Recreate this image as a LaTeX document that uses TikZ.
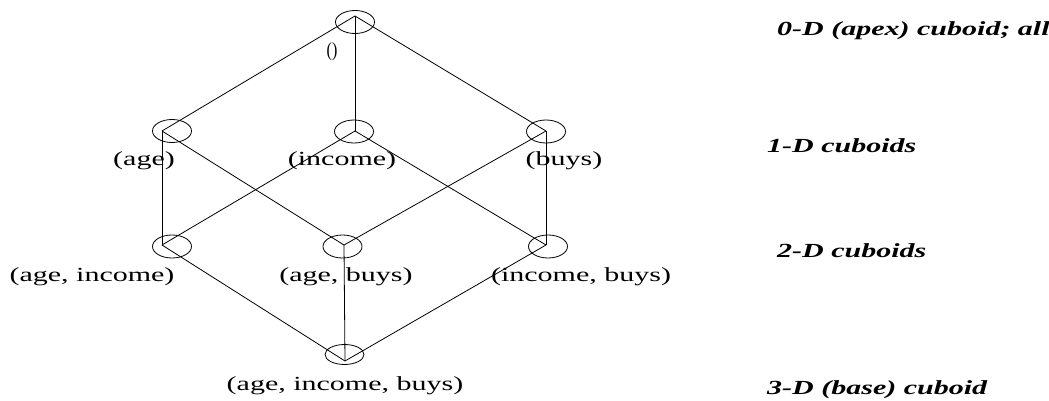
\documentclass[tikz,border=0pt]{standalone}
\usepackage{fontspec}
\setmainfont{Liberation Serif}
\usepackage{graphicx}
\usetikzlibrary{shapes.geometric}
\newcommand{\widetxt}[1]{\scalebox{1.5}[1]{#1}}
\begin{document}
\begin{tikzpicture}[x=1pt,y=-1pt,
  cub/.style={draw, ellipse, minimum width=39pt, minimum height=23pt, inner sep=0pt, line width=0.8pt},
  edge/.style={line width=0.8pt},
  lbl/.style={font=\fontsize{20}{24}\selectfont, inner sep=0pt, anchor=base},
  lvl/.style={font=\fontsize{20}{24}\selectfont\bfseries\itshape, inner sep=0pt, anchor=base west}]
\useasboundingbox (0,0) rectangle (1049,401);
% ellipses
\node[cub] (eApex) at (355,22) {};
\node[cub] (eAge) at (172,131) {};
\node[cub] (eInc) at (354,131.5) {};
\node[cub] (eBuy) at (546,131.5) {};
\node[cub] (eAI) at (172,246.5) {};
\node[cub] (eAB) at (342.5,246.5) {};
\node[cub] (eIB) at (548,246.5) {};
\node[cub, minimum height=20pt] (eBase) at (344.5,354.5) {};
% vertices
\coordinate (apex) at (355,16);
\coordinate (age) at (162,131);
\coordinate (inc) at (355,131);
\coordinate (buy) at (546,131);
\coordinate (ai) at (162,245);
\coordinate (ab) at (344,245);
\coordinate (ib) at (546,245);
\coordinate (base) at (345,361);
% edges
\draw[edge] (apex) -- (age);
\draw[edge] (apex) -- (inc);
\draw[edge] (apex) -- (buy);
\draw[edge] (age) -- (ai);
\draw[edge] (age) -- (ab);
\draw[edge] (inc) -- (ai);
\draw[edge] (inc) -- (ib);
\draw[edge] (buy) -- (ab);
\draw[edge] (buy) -- (ib);
\draw[edge] (ai) -- (base);
\draw[edge] (ab) -- (base);
\draw[edge] (ib) -- (base);
% labels
\node[lbl] (tApex) at (332,57) {\scalebox{0.8}[1]{()}};
\node[lbl] (tAge) at (144,165) {\widetxt{(age)}};
\node[lbl] (tInc) at (342,165) {\widetxt{(income)}};
\node[lbl] (tBuy) at (564,165) {\widetxt{(buys)}};
\node[lbl] (tAI) at (92,281) {\widetxt{(age, income)}};
\node[lbl] (tAB) at (346,281) {\widetxt{(age, buys)}};
\node[lbl] (tIB) at (581,281) {\widetxt{(income, buys)}};
\node[lbl] (tBase) at (345,390) {\widetxt{(age, income, buys)}};
% level labels
\node[lvl] (l0) at (777,36) {\widetxt{0-D (apex) cuboid; all}};
\node[lvl] (l1) at (767,152) {\widetxt{1-D cuboids}};
\node[lvl] (l2) at (777,257) {\widetxt{2-D cuboids}};
\node[lvl] (l3) at (767,394) {\widetxt{3-D (base) cuboid}};
\end{tikzpicture}
\end{document}
